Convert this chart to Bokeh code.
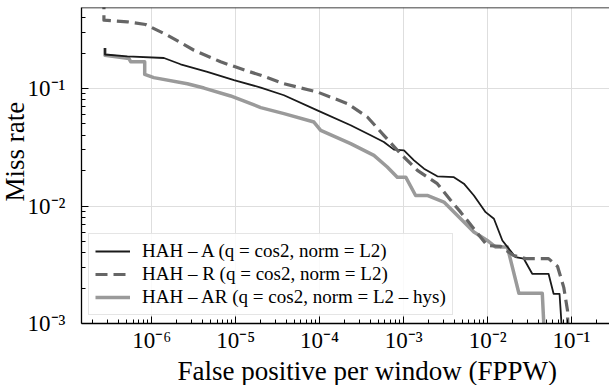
from bokeh.plotting import figure
from bokeh.models import (Legend, LegendItem, Span, FixedTicker, CustomJSTickFormatter,
                          Title, Range1d)
from bokeh.embed import file_html
from bokeh.resources import INLINE

# HAH - A (q = cos2, norm = L2)
fppw_a = [2.78e-7, 2.78e-7, 5.14e-7, 1.40e-6, 2.21e-6, 4.60e-6, 9.55e-6, 1.99e-5, 3.76e-5,
          9.39e-5, 2.34e-4, 4.05e-4, 5.82e-4, 7.67e-4, 1.01e-3, 1.33e-3, 1.75e-3, 2.52e-3,
          3.97e-3, 5.22e-3, 6.87e-3, 9.47e-3, 1.19e-2, 1.50e-2, 2.15e-2, 2.70e-2, 3.40e-2,
          5.32e-2, 6.11e-2, 7.19e-2, 8.09e-2]
miss_a = [0.222, 0.195, 0.188, 0.182, 0.161, 0.139, 0.118, 0.102, 0.0877,
          0.0653, 0.0487, 0.0400, 0.0351, 0.0302, 0.0298, 0.0245, 0.0208, 0.0179,
          0.0176, 0.0155, 0.0123, 8.87e-3, 7.79e-3, 5.09e-3, 3.67e-3, 3.56e-3, 2.65e-3,
          2.65e-3, 1.79e-3, 1.79e-3, 5e-4]

# HAH - R (q = cos2, norm = L2)
fppw_r = [2.70e-7, 2.70e-7, 5.14e-7, 8.48e-7, 1.54e-6, 3.19e-6, 6.62e-6, 1.38e-5, 1.99e-5,
          3.76e-5, 9.39e-5, 2.14e-4, 3.70e-4, 5.82e-4, 9.20e-4, 1.46e-3, 2.52e-3, 3.63e-3,
          4.78e-3, 6.87e-3, 9.91e-3, 1.43e-2, 2.04e-2, 2.83e-2, 5.32e-2, 6.81e-2, 8.09e-2,
          8.95e-2, 9.2e-2]
miss_r = [0.6, 0.382, 0.370, 0.351, 0.285, 0.212, 0.169, 0.141, 0.130,
          0.110, 0.0935, 0.0745, 0.0573, 0.0400, 0.0279, 0.0201, 0.0155, 0.0112,
          8.87e-3, 6.40e-3, 4.61e-3, 4.53e-3, 3.79e-3, 3.57e-3, 3.57e-3, 3.06e-3, 2.02e-3,
          1.29e-3, 5e-4]

# HAH - AR (q = cos2, norm = L2 - hys)
fppw_ar = [2.78e-7, 2.78e-7, 5.37e-7, 5.62e-7, 8.26e-7, 8.26e-7, 1.06e-6, 2.66e-6, 4.20e-6,
           8.71e-6, 1.99e-5, 3.76e-5, 8.55e-5, 1.03e-4, 2.34e-4, 4.43e-4, 6.39e-4, 8.41e-4,
           1.06e-3, 1.39e-3, 1.91e-3, 3.02e-3, 4.78e-3, 6.87e-3, 9.91e-3, 1.25e-2, 1.72e-2,
           2.36e-2, 4.48e-2, 4.90e-2]
miss_ar = [0.222, 0.192, 0.180, 0.169, 0.169, 0.132, 0.124, 0.110, 0.101,
           0.0865, 0.0689, 0.0612, 0.0519, 0.0441, 0.0340, 0.0270, 0.0215, 0.0176,
           0.0176, 0.0123, 0.0123, 0.0108, 7.79e-3, 6.00e-3, 5.09e-3, 4.47e-3, 4.47e-3,
           1.81e-3, 1.81e-3, 5e-4]

series_labels = [
    "HAH \u2013 A (q = cos2, norm = L2)",
    "HAH \u2013 R (q = cos2, norm = L2)",
    "HAH \u2013 AR (q = cos2, norm = L2 \u2013 hys)",
]

x_decades = list(range(-6, 0))
y_decades = list(range(-3, 0))

FONT = "Liberation Serif"
X_START, X_END = 1.46e-7, 0.283
Y_START, Y_END = 1e-3, 0.49

p = figure(width=609, height=385, x_axis_type="log", y_axis_type="log",
           x_range=Range1d(X_START, X_END), y_range=Range1d(Y_START, Y_END),
           output_backend="svg", toolbar_location=None,
           min_border_left=81, min_border_right=0, min_border_top=7, min_border_bottom=62)
p.outline_line_color = None
p.background_fill_color = "white"
p.border_fill_color = "white"

# top edge of the axes box (right side stays open)
p.add_layout(Span(location=Y_END, dimension="width", line_color="black", line_width=1.3))

sup_js = """
const sup = {'-':'\u207b','0':'\u2070','1':'\u00b9','2':'\u00b2','3':'\u00b3','4':'\u2074',
             '5':'\u2075','6':'\u2076','7':'\u2077','8':'\u2078','9':'\u2079'};
const e = Math.round(Math.log10(tick));
return '10' + String(e).split('').map(c => sup[c]).join('');
"""

p.xaxis.ticker = FixedTicker(
    ticks=[10.0 ** e for e in x_decades],
    minor_ticks=[m * 10.0 ** e for e in range(-7, 0) for m in range(2, 10)])
p.yaxis.ticker = FixedTicker(
    ticks=[10.0 ** e for e in y_decades],
    minor_ticks=[m * 10.0 ** e for e in range(-3, 0) for m in range(2, 10)])

for ax in (p.xaxis, p.yaxis):
    ax.formatter = CustomJSTickFormatter(code=sup_js)
    ax.axis_line_color = "black"
    ax.axis_line_width = 1.3
    ax.major_tick_in = 7
    ax.major_tick_out = 0
    ax.minor_tick_in = 4
    ax.minor_tick_out = 0
    ax.major_tick_line_color = "black"
    ax.minor_tick_line_color = "black"
    ax.major_tick_line_width = 1
    ax.minor_tick_line_width = 1
    ax.major_label_text_font = FONT
    ax.major_label_text_font_size = "23px"
    ax.major_label_text_color = "black"

p.xaxis.major_label_standoff = 4
p.yaxis.major_label_standoff = 16

p.grid.grid_line_color = "#dedede"
p.grid.grid_line_width = 1

xlabel = Title(text="False positive per window (FPPW)", align="left", offset=96,
               text_font=FONT, text_font_size="27px", text_font_style="normal",
               text_color="black", standoff=-4)
p.add_layout(xlabel, "below")

ylabel = Title(text="Miss rate", align="left", offset=122,
               text_font=FONT, text_font_size="27px", text_font_style="normal",
               text_color="black", standoff=-10)
p.add_layout(ylabel, "left")

r_ar = p.line(fppw_ar, miss_ar, line_color="#9a9a9a", line_width=3.5, line_join="round")
r_a = p.line(fppw_a, miss_a, line_color="#1a1a1a", line_width=1.8, line_join="round")
r_r = p.line(fppw_r, miss_r, line_color="#666666", line_width=3.2, line_dash="12 6",
             line_join="round")

legend = Legend(
    items=[LegendItem(label=series_labels[0], renderers=[r_a]),
           LegendItem(label=series_labels[1], renderers=[r_r]),
           LegendItem(label=series_labels[2], renderers=[r_ar])],
    location=(7, 8), margin=0, padding=6, spacing=1,
    glyph_width=35, glyph_height=18, label_height=18, label_standoff=12,
    label_text_font=FONT, label_text_font_size="19px", label_text_color="black",
    border_line_color="#cccccc", border_line_width=1,
    background_fill_color="white", background_fill_alpha=0.85)
p.add_layout(legend)

open("out.html", "w").write(file_html(p, INLINE))
